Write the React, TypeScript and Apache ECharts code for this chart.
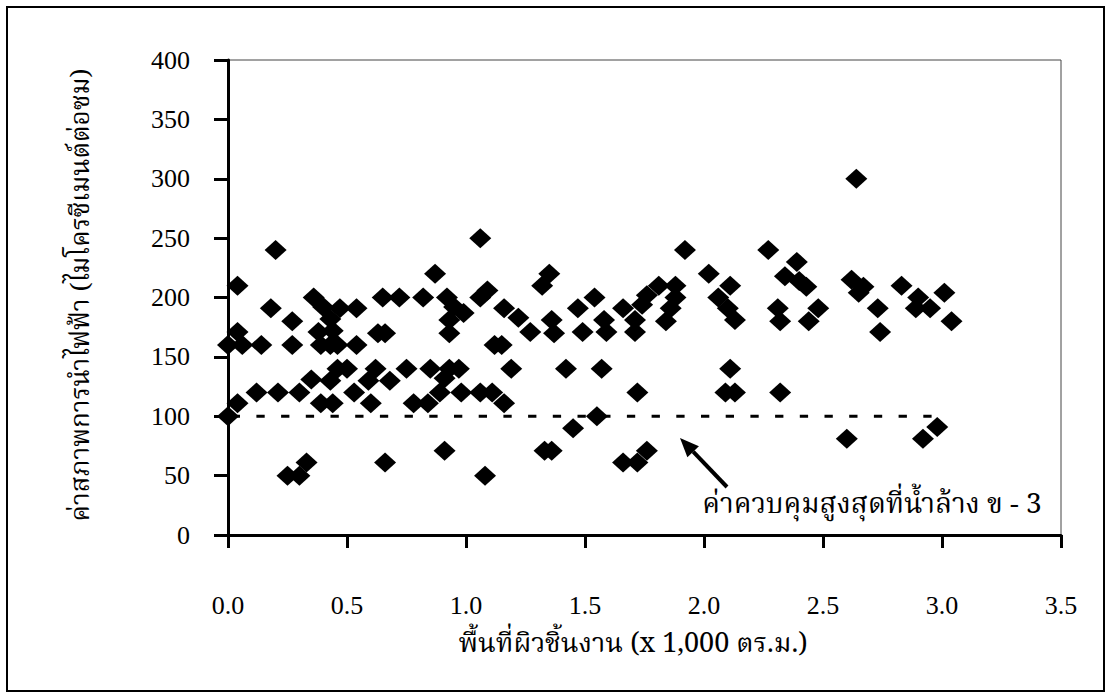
import React, { useEffect, useRef } from "react";
import * as echarts from "echarts";

// พื้นที่ผิวชิ้นงาน (x 1,000 ตร.ม.)
const areaValues = [
  0.0, 0.04, 0.06, 0.04, 0.14, 0.18, 0.2, 0.27, 0.27, 0.36, 0.4, 0.43, 0.47, 0.38, 0.44, 0.39, 0.43, 0.46,
  0.54, 0.54, 0.65, 0.63, 0.66, 0.72, 0.82, 0.87, 0.92, 0.95, 0.99, 0.93, 0.93, 1.06, 1.09, 1.06, 1.12, 1.15,
  1.16, 1.22, 1.27, 1.32, 1.35, 1.36, 1.37, 1.47, 1.49, 1.54, 1.58, 1.59, 1.66, 1.71, 1.71, 1.74, 1.76, 1.81,
  1.84, 1.86, 1.88, 1.88, 1.92, 2.02, 2.06, 2.1, 2.11, 2.13, 2.27, 2.31, 2.32, 2.34, 2.39, 2.4, 2.43, 2.44,
  2.48, 2.62, 2.64, 2.65, 2.67, 2.73, 2.74, 2.83, 2.9, 2.89, 2.95, 3.01, 3.04,
  0.0, 0.04, 0.12, 0.21, 0.3, 0.35, 0.39, 0.44, 0.43, 0.46, 0.5, 0.53, 0.59, 0.6, 0.62, 0.68, 0.75, 0.78,
  0.84, 0.85, 0.89, 0.91, 0.93, 0.97, 0.98, 1.06, 1.11, 1.16, 1.19, 1.42, 1.57, 1.72, 2.11, 2.09, 2.13, 2.32,
  0.25, 0.3, 0.33, 0.66, 0.91, 1.08, 1.33, 1.36, 1.55, 1.45, 1.66, 1.72, 1.76, 2.6, 2.92, 2.98,
];

// ค่าสภาพการนำไฟฟ้า (ไมโครซีเมนต์ต่อซม)
const conductivityValues = [
  160, 171, 160, 210, 160, 191, 240, 180, 160, 200, 192, 182, 191, 171, 172, 160, 160, 160,
  191, 160, 200, 170, 170, 200, 200, 220, 200, 192, 187, 181, 170, 250, 206, 200, 160, 160,
  191, 183, 171, 210, 220, 181, 170, 191, 171, 200, 181, 171, 191, 181, 171, 194, 202, 210,
  180, 191, 200, 210, 240, 220, 200, 191, 210, 181, 240, 191, 180, 218, 230, 214, 209, 180,
  191, 215, 300, 204, 209, 191, 171, 210, 200, 191, 191, 204, 180,
  100, 111, 120, 120, 120, 131, 111, 111, 130, 140, 140, 120, 130, 111, 140, 130, 140, 111,
  111, 140, 120, 132, 140, 140, 120, 120, 120, 111, 140, 140, 140, 120, 140, 120, 120, 120,
  50, 50, 61, 61, 71, 50, 71, 71, 100, 90, 61, 61, 71, 81, 81, 91,
];

const limitX = [0, 2.96];
const limitY = [100, 100];

const xTitle = "พื้นที่ผิวชิ้นงาน (x 1,000 ตร.ม.)";
const yTitle = "ค่าสภาพการนำไฟฟ้า (ไมโครซีเมนต์ต่อซม)";
const noteText = "ค่าควบคุมสูงสุดที่น้ำล้าง ข - 3";

const SERIF = "'Liberation Serif', 'Times New Roman', serif";
const THAI = "'Noto Serif Thai', 'Noto Sans Thai', 'Loma', 'Garuda', 'Norasi', 'Liberation Serif', serif";

export default function App() {
  const ref = useRef<HTMLDivElement>(null);

  useEffect(() => {
    if (!ref.current) return;
    const chart = echarts.init(ref.current, null, { renderer: "svg" });
    const points = areaValues.map((x, i) => [x, conductivityValues[i]]);
    const limitLine = limitX.map((x, i) => [x, limitY[i]]);

    // arrow geometry (annotation)
    const tip = [680, 438];
    const tail = [727, 487];
    const dx = tail[0] - tip[0];
    const dy = tail[1] - tip[1];
    const len = Math.sqrt(dx * dx + dy * dy);
    const ux = dx / len;
    const uy = dy / len;
    const headLen = 19;
    const headHalf = 8;
    const bx = tip[0] + ux * headLen;
    const by = tip[1] + uy * headLen;

    chart.setOption({
      animation: false,
      backgroundColor: "#fff",
      grid: {
        left: 228,
        right: 51,
        top: 60,
        bottom: 164,
        containLabel: false,
        show: true,
        borderColor: "#444",
        borderWidth: 1,
      },
      xAxis: {
        type: "value",
        min: 0,
        max: 3.5,
        interval: 0.5,
        splitLine: { show: false },
        axisLine: { show: true, onZero: false, lineStyle: { color: "#000", width: 3 } },
        axisTick: { show: true, inside: false, length: 13, lineStyle: { color: "#000", width: 3 } },
        axisLabel: {
          margin: 57,
          color: "#000",
          fontFamily: SERIF,
          fontSize: 26,
          lineHeight: 26,
          formatter: (v: number) => v.toFixed(1),
        },
      },
      yAxis: {
        type: "value",
        min: 0,
        max: 400,
        interval: 50,
        splitLine: { show: false },
        axisLine: { show: true, onZero: false, lineStyle: { color: "#000", width: 3 } },
        axisTick: { show: true, inside: false, length: 14, lineStyle: { color: "#000", width: 3 } },
        axisLabel: {
          margin: 38,
          color: "#000",
          fontFamily: SERIF,
          fontSize: 26,
        },
      },
      series: [
        {
          type: "line",
          data: limitLine,
          symbol: "none",
          z: 1,
          silent: true,
          lineStyle: { color: "#000", width: 3, type: [8.3, 16.4], dashOffset: 21.1 },
        },
        {
          type: "scatter",
          data: points,
          symbol: "diamond",
          symbolSize: [22, 20],
          z: 3,
          itemStyle: { color: "#000", opacity: 1 },
        },
      ],
      graphic: [
        {
          type: "rect",
          z: -10,
          shape: { x: 7, y: 7, width: 1097, height: 684 },
          style: { fill: "none", stroke: "#000", lineWidth: 2 },
        },
        {
          type: "text",
          x: 82,
          y: 295,
          rotation: Math.PI / 2,
          style: {
            text: yTitle,
            fill: "#000",
            font: `26px ${THAI}`,
            textAlign: "center",
            textVerticalAlign: "middle",
          },
        },
        {
          type: "text",
          x: 633,
          y: 644,
          style: {
            text: xTitle,
            fill: "#000",
            font: `27px ${THAI}`,
            lineHeight: 30,
            textAlign: "center",
            textVerticalAlign: "middle",
          },
        },
        {
          type: "text",
          x: 872,
          y: 505,
          style: {
            text: noteText,
            fill: "#000",
            font: `28px ${THAI}`,
            textAlign: "center",
            textVerticalAlign: "middle",
          },
        },
        {
          type: "line",
          shape: { x1: tail[0], y1: tail[1], x2: bx, y2: by },
          style: { stroke: "#000", lineWidth: 4 },
        },
        {
          type: "polygon",
          shape: {
            points: [
              [tip[0], tip[1]],
              [bx - uy * headHalf, by + ux * headHalf],
              [bx + uy * headHalf, by - ux * headHalf],
            ],
          },
          style: { fill: "#000" },
        },
      ],
    });

    return () => chart.dispose();
  }, []);

  return (
    <div
      ref={ref}
      style={{ position: "fixed", left: 0, top: 0, width: 1112, height: 699, background: "#fff" }}
    />
  );
}
